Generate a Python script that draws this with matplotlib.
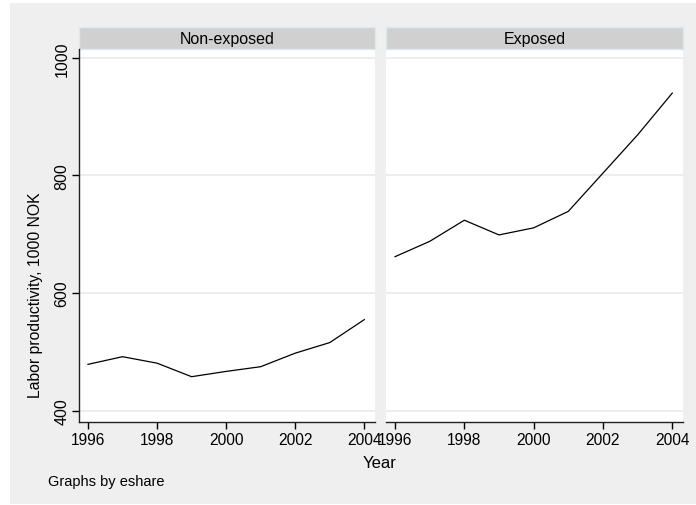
import matplotlib.pyplot as plt
from matplotlib.patches import Rectangle

plt.rcParams['font.family'] = ['Liberation Sans', 'DejaVu Sans']

years = [1996, 1997, 1998, 1999, 2000, 2001, 2002, 2003, 2004]
non_exposed = [479, 492, 481, 458, 467, 475, 498, 516, 555]
exposed = [662, 688, 724, 699, 711, 739, 804, 869, 940]
panels = ['Non-exposed', 'Exposed']
yticks = [400, 600, 800, 1000]
xticks = [1996, 1998, 2000, 2002, 2004]

W, H = 696, 506
fig = plt.figure(figsize=(W / 100, H / 100), dpi=100)
fig.patch.set_facecolor('white')

# stata-like grey backdrop
fig.patches.append(Rectangle((10 / W, 1 / H), (W - 10) / W, (H - 5) / H,
                             transform=fig.transFigure, facecolor='#efefef',
                             edgecolor='none', zorder=-10))

def px_axes(x0, x1, y0, y1):
    return fig.add_axes([x0 / W, (H - y1) / H, (x1 - x0) / W, (y1 - y0) / H])

ax1 = px_axes(79, 375, 50, 423)
ax2 = px_axes(386, 683, 50, 423)

for ax, name, vals in [(ax1, panels[0], non_exposed), (ax2, panels[1], exposed)]:
    ax.set_facecolor('white')
    ax.plot(years, vals, color='black', lw=0.9)
    ax.set_xlim(1995.74, 2004.31)
    ax.set_ylim(381, 1015)
    ax.set_yticks(yticks)
    ax.set_xticks(xticks)
    ax.grid(axis='y', color='#ececec', lw=1.3)
    ax.set_axisbelow(True)
    for s in ['top', 'right']:
        ax.spines[s].set_visible(False)
    ax.spines['bottom'].set_linewidth(1.0)
    ax.spines['bottom'].set_color('#222222')
    ax.tick_params(axis='x', direction='out', length=5, width=1, labelsize=11.2, pad=2)
    # title strip above each panel
    strip_h = 22 / 373
    ax.add_patch(Rectangle((0, 1), 1, strip_h, transform=ax.transAxes,
                           facecolor='#d0d0d0', edgecolor='#dce8ee', lw=1,
                           clip_on=False))
    ax.text(0.5, 1 + strip_h / 2, name, transform=ax.transAxes,
            ha='center', va='center', fontsize=11.5)

ax1.spines['left'].set_linewidth(1.0)
ax1.spines['left'].set_color('#222222')
ax1.tick_params(axis='y', direction='out', length=5, width=1, labelsize=11.5,
                labelrotation=90, pad=2)
for lab in ax1.get_yticklabels():
    lab.set_va('center')
ax1.set_ylabel('Labor productivity, 1000 NOK', fontsize=11.3)
ax1.yaxis.set_label_coords(-0.122, 0.343)

ax2.spines['left'].set_visible(False)
ax2.tick_params(axis='y', left=False, labelleft=False)

fig.text(380 / W, 1 - 463 / H, 'Year', ha='center', va='center', fontsize=12)
fig.text(48 / W, 1 - 482 / H, 'Graphs by eshare', ha='left', va='center', fontsize=10.5)

fig.savefig('out.png', dpi=100, facecolor=fig.get_facecolor())
